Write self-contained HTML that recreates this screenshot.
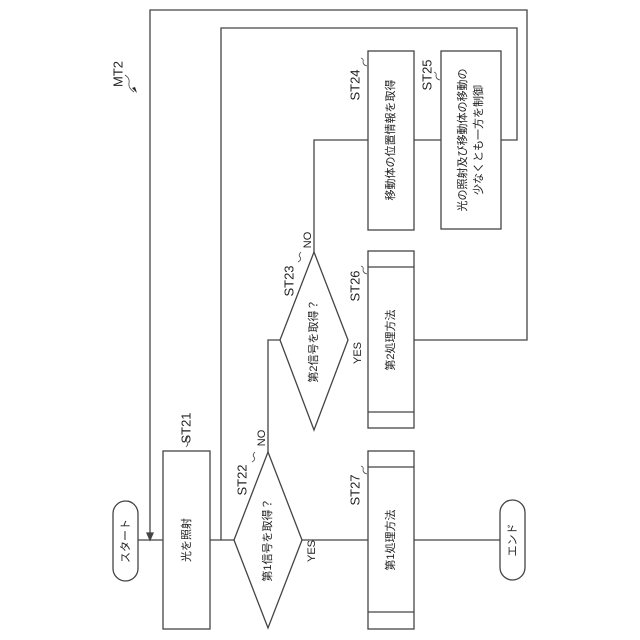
<!DOCTYPE html>
<html><head><meta charset="utf-8"><style>html,body{margin:0;padding:0;background:#fff}svg{display:block}text{font-family:"Liberation Sans","Noto Sans CJK JP",sans-serif;fill:#222}</style></head>
<body>
<svg width="640" height="640" viewBox="0 0 640 640" xmlns="http://www.w3.org/2000/svg">
<g fill="none" stroke="#444" stroke-width="1.3">
<!-- main line -->
<line x1="137" y1="540" x2="500" y2="540"/>
<!-- outer loop -->
<polyline points="414,340 527,340 527,10 150,10 150,533"/>
<polygon points="150,540 147,533 153,533" fill="#444"/>
<!-- inner loop -->
<polyline points="501,140 517,140 517,28 221,28 221,540"/>
<!-- ST22 NO to ST23 -->
<polyline points="268,452 268,340 280,340"/>
<!-- ST23 NO to ST24 -->
<polyline points="314,252 314,140 368,140"/>
<line x1="414" y1="140" x2="441" y2="140"/>
<!-- start terminal -->
<rect x="113" y="501" width="25" height="80" rx="12.5" fill="#fff"/>
<!-- end terminal -->
<rect x="500" y="500" width="25" height="80" rx="12.5" fill="#fff"/>
<!-- ST21 -->
<rect x="163" y="451" width="47" height="178" fill="#fff"/>
<!-- ST22 -->
<polygon points="268,452 302,540 268,628 234,540" fill="#fff"/>
<!-- ST23 -->
<polygon points="314,252 348,340 314,430 280,340" fill="#fff"/>
<!-- ST24 -->
<rect x="368" y="51" width="46" height="179" fill="#fff"/>
<!-- ST25 -->
<rect x="441" y="51" width="60" height="178" fill="#fff"/>
<!-- ST26 -->
<rect x="368" y="251" width="46" height="177" fill="#fff"/>
<line x1="368" y1="267" x2="414" y2="267"/><line x1="368" y1="412" x2="414" y2="412"/>
<!-- ST27 -->
<rect x="368" y="451" width="46" height="178" fill="#fff"/>
<line x1="368" y1="467" x2="414" y2="467"/><line x1="368" y1="612" x2="414" y2="612"/>
<!-- squiggles -->
<path d="M186,447 q3,-3 1,-5 q-2,-2 1,-5" stroke-width="0.8"/>
<path d="M252,462 q4,-2 2,-5 q-2,-2 1,-5" stroke-width="0.8"/>
<path d="M298,262 q4,-2 2,-5 q-2,-2 1,-5" stroke-width="0.8"/>
<path d="M367,66 q-4,-1 -4,-4 q1,-3 -2,-4" stroke-width="0.8"/>
<path d="M440,80 q-4,-1 -4,-4 q1,-3 -2,-4" stroke-width="0.8"/>
<path d="M367,274 q-4,-1 -4,-4 q1,-3 -2,-4" stroke-width="0.8"/>
<path d="M367,474 q-4,-1 -4,-4 q1,-3 -2,-4" stroke-width="0.8"/>
<path d="M125,75 q5,3 4,8 q-1,5 5,9" stroke-width="0.8"/>
</g>
<polygon points="137,93 132,88 135,87" fill="#222"/>
<g font-size="11" text-anchor="middle" dominant-baseline="central">
<text transform="translate(126,541) rotate(-90)">スタート</text>
<text transform="translate(513,540) rotate(-90)">エンド</text>
<text transform="translate(187,540) rotate(-90)">光を照射</text>
<text transform="translate(268,540) rotate(-90)">第1信号を取得？</text>
<text transform="translate(314,341) rotate(-90)">第2信号を取得？</text>
<text transform="translate(391,140) rotate(-90)">移動体の位置情報を取得</text>
<text transform="translate(463,140) rotate(-90)">光の照射及び移動体の移動の</text>
<text transform="translate(479,140) rotate(-90)">少なくとも一方を制御</text>
<text transform="translate(391,340) rotate(-90)">第2処理方法</text>
<text transform="translate(391,540) rotate(-90)">第1処理方法</text>
</g>
<g font-size="13" text-anchor="middle" dominant-baseline="central">
<text transform="translate(186,428) rotate(-90)">ST21</text>
<text transform="translate(242,480) rotate(-90)">ST22</text>
<text transform="translate(289,281) rotate(-90)">ST23</text>
<text transform="translate(355,85) rotate(-90)">ST24</text>
<text transform="translate(427,75) rotate(-90)">ST25</text>
<text transform="translate(355,286) rotate(-90)">ST26</text>
<text transform="translate(355,490) rotate(-90)">ST27</text>
<text transform="translate(118,74) rotate(-90)">MT2</text>
</g>
<g font-size="11" text-anchor="middle" dominant-baseline="central">
<text transform="translate(262,438) rotate(-90)">NO</text>
<text transform="translate(312,551) rotate(-90)">YES</text>
<text transform="translate(308,240) rotate(-90)">NO</text>
<text transform="translate(358,353) rotate(-90)">YES</text>
</g>
</svg>
</body></html>
